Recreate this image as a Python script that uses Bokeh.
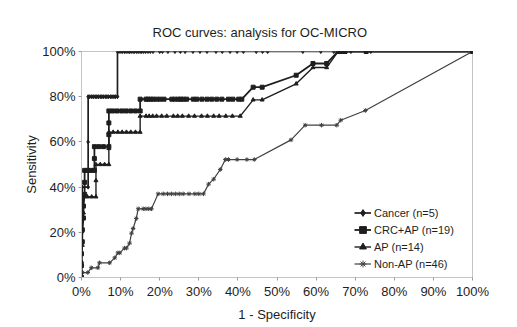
from bokeh.plotting import figure
from bokeh.models import Range1d, NumeralTickFormatter, FixedTicker, Legend, LegendItem, Title
from bokeh.embed import file_html
from bokeh.resources import INLINE

# ---------------- data (percent) ----------------
cancer_fpr = [0, 0, 0.2, 0.2, 1.7, 1.7, 1.7, 2.1, 2.6, 3.0, 3.5, 3.9, 4.3, 4.8, 5.2, 5.6, 6.1, 6.5,
              6.9, 7.4, 7.8, 8.3, 8.7, 9.2, 9.2, 9.6, 10.1, 10.5, 11.0, 11.4, 11.9, 12.3, 12.7,
              13.2, 13.6, 14.1, 14.5, 15.0, 15.4, 15.9, 16.4, 17.0, 17.6, 18.3, 20.0, 20.7,
              22.1, 23.9, 25.3, 26.5, 28.5, 30.3, 32.1, 34.4, 36.0, 38.0, 39.8, 41.4, 44.7,
              46.3, 47.6, 56.6, 61.2, 64.5, 65.6, 66.2, 67.4, 68.9, 72.8, 74.0, 100]
cancer_tpr = [0, 20, 20, 40, 40, 60, 80, 80, 80, 80, 80, 80, 80, 80, 80, 80, 80, 80,
              80, 80, 80, 80, 80, 80, 100, 100, 100, 100, 100, 100, 100, 100, 100,
              100, 100, 100, 100, 100, 100, 100, 100, 100, 100, 100, 100, 100,
              100, 100, 100, 100, 100, 100, 100, 100, 100, 100, 100, 100, 100,
              100, 100, 100, 100, 100, 100, 100, 100, 100, 100, 100, 100]

crc_fpr = [0, 0, 0, 0.2, 0.2, 0.5, 0.5, 0.8, 0.8, 0.8, 1.5, 2.4, 3.3, 3.3, 3.3, 4.4, 5.6, 7.0,
           7.0, 7.0, 7.0, 8.0, 9.1, 10.3, 11.4, 12.6, 13.8, 15.0, 15.0, 16.5, 17.0, 17.7,
           18.3, 19.2, 20.1, 21.1, 23.1, 23.9, 24.8, 25.4, 26.1, 26.9, 28.6, 29.5, 30.8,
           32.1, 33.3, 34.6, 35.9, 37.6, 38.7, 40.2, 41.0, 43.9, 46.2, 54.9, 59.2, 62.7,
           65.6, 66.4, 67.4, 72.8, 100]
crc_tpr = [0, 5.3, 10.5, 15.8, 21.1, 26.3, 31.6, 36.8, 42.1, 47.4, 47.4, 47.4, 47.4, 52.6,
           57.9, 57.9, 57.9, 57.9, 63.2, 68.4, 73.7, 73.7, 73.7, 73.7, 73.7, 73.7, 73.7,
           73.7, 78.9, 78.9, 78.9, 78.9, 78.9, 78.9, 78.9, 78.9, 78.9, 78.9, 78.9, 78.9,
           78.9, 78.9, 78.9, 78.9, 78.9, 78.9, 78.9, 78.9, 78.9, 78.9, 78.9, 78.9, 78.9,
           84.2, 84.2, 89.5, 94.7, 94.7, 100, 100, 100, 100, 100]

ap_fpr = [0, 0, 0.2, 0.2, 0.5, 0.5, 1.5, 2.6, 3.7, 3.7, 3.7, 4.8, 5.9, 7.0, 7.0, 7.0, 8.1,
          9.3, 10.4, 11.5, 12.6, 13.8, 15.0, 15.0, 16.5, 17.3, 18.2, 19.2, 20.5, 21.8,
          23.5, 24.6, 25.8, 27.4, 28.9, 30.7, 32.2, 33.8, 35.2, 36.9, 38.6, 40.6, 43.9,
          46.2, 54.9, 59.2, 62.7, 65.6, 100]
ap_tpr = [0, 7.1, 14.3, 21.4, 28.6, 35.7, 35.7, 35.7, 35.7, 42.9, 50.0, 50.0, 50.0, 50.0,
          57.1, 64.3, 64.3, 64.3, 64.3, 64.3, 64.3, 64.3, 64.3, 71.4, 71.4, 71.4, 71.4,
          71.4, 71.4, 71.4, 71.4, 71.4, 71.4, 71.4, 71.4, 71.4, 71.4, 71.4, 71.4, 71.4,
          71.4, 71.4, 78.6, 78.6, 85.7, 92.9, 92.9, 100, 100]

nonap_fpr = [0, 0.3, 1.6, 2.5, 4.2, 4.6, 7.2, 8.5, 9.3, 9.8, 11.0, 11.5, 12.3, 12.8, 13.2,
             14.0, 14.5, 15.8, 16.5, 17.2, 17.9, 19.6, 20.9, 22.0, 23.0, 24.0, 25.0, 26.0,
             27.5, 29.0, 30.0, 31.2, 32.5, 33.8, 35.5, 36.8, 37.6, 39.8, 42.3, 44.2, 53.6,
             57.2, 61.4, 65.3, 66.3, 72.6, 100]
nonap_tpr = [0, 2.2, 2.2, 4.3, 4.3, 6.5, 6.5, 8.7, 10.9, 10.9, 13.0, 13.0, 15.2, 19.6,
             21.7, 26.1, 30.4, 30.4, 30.4, 30.4, 30.4, 37.0, 37.0, 37.0, 37.0, 37.0, 37.0,
             37.0, 37.0, 37.0, 37.0, 37.0, 41.3, 43.5, 47.8, 52.2, 52.2, 52.2, 52.2, 52.2,
             60.9, 67.4, 67.4, 67.4, 69.6, 73.9, 100]

series_labels = ["Cancer (n=5)", "CRC+AP (n=19)", "AP (n=14)", "Non-AP (n=46)"]
tick_values = [0, 10, 20, 30, 40, 50, 60, 70, 80, 90, 100]
y_tick_values = [0, 20, 40, 60, 80, 100]
title_text = "ROC curves: analysis for OC-MICRO"

FONT = "Liberation Sans"
INK = "#1e1e1e"

p = figure(width=517, height=327, output_backend="svg", toolbar_location=None,
           x_range=Range1d(0, 100), y_range=Range1d(0, 100),
           min_border_left=81, min_border_right=45, min_border_top=51, min_border_bottom=50)

p.background_fill_color = "white"
p.border_fill_color = "white"
p.outline_line_color = "#c4c4c4"
p.outline_line_width = 1
p.xgrid.visible = False
p.ygrid.visible = False

p.add_layout(Title(text=title_text, align="left", offset=71, standoff=23,
                   text_font=FONT, text_font_size="13px", text_font_style="normal",
                   text_color=INK), "above")

for ax in (p.xaxis[0], p.yaxis[0]):
    ax.axis_line_color = "#c4c4c4"
    ax.major_tick_line_color = "#9a9a9a"
    ax.minor_tick_line_color = None
    ax.major_tick_in = 0
    ax.major_tick_out = 3
    ax.major_label_text_font = FONT
    ax.major_label_text_font_size = "13px"
    ax.major_label_text_color = INK
    ax.axis_label_text_font = FONT
    ax.axis_label_text_font_size = "13px"
    ax.axis_label_text_font_style = "normal"
    ax.axis_label_text_color = INK
    ax.formatter = NumeralTickFormatter(format="0")

p.xaxis[0].ticker = FixedTicker(ticks=tick_values)
p.yaxis[0].ticker = FixedTicker(ticks=y_tick_values)
p.xaxis[0].major_label_overrides = {v: f"{v}%" for v in tick_values}
p.yaxis[0].major_label_overrides = {v: f"{v}%" for v in y_tick_values}
p.xaxis[0].axis_label = "1 - Specificity"
p.yaxis[0].axis_label = "Sensitivity"
p.xaxis[0].major_label_standoff = 3
p.yaxis[0].major_label_standoff = 3
p.xaxis[0].axis_label_standoff = 5
p.yaxis[0].axis_label_standoff = 0

# series: Non-AP first so others draw on top
specs = [
    (nonap_fpr, nonap_tpr, "asterisk", 4.5, "#404040", 1.2, series_labels[3]),
    (ap_fpr, ap_tpr, "triangle", 4, INK, 1.4, series_labels[2]),
    (crc_fpr, crc_tpr, "square", 4, INK, 1.8, series_labels[1]),
    (cancer_fpr, cancer_tpr, "diamond", 4, INK, 1.7, series_labels[0]),
]
renders = {}
for xs, ys, mk, sz, col, lw, lab in specs:
    l = p.line(xs, ys, line_color=col, line_width=lw)
    s = p.scatter(xs, ys, marker=mk, size=sz, line_color=col, fill_color=col, line_width=1)
    renders[lab] = [l, s]

items = [LegendItem(label=lab, renderers=renders[lab]) for lab in series_labels]

legend = Legend(items=items, location=(273, 5), orientation="vertical",
                label_text_font=FONT, label_text_font_size="11px", label_text_color=INK,
                glyph_width=17, glyph_height=17, label_height=17, label_standoff=3,
                spacing=0, padding=4, margin=0,
                border_line_color=None, background_fill_color="white", background_fill_alpha=1)
p.add_layout(legend, "center")

open("out.html", "w").write(file_html(p, INLINE))
